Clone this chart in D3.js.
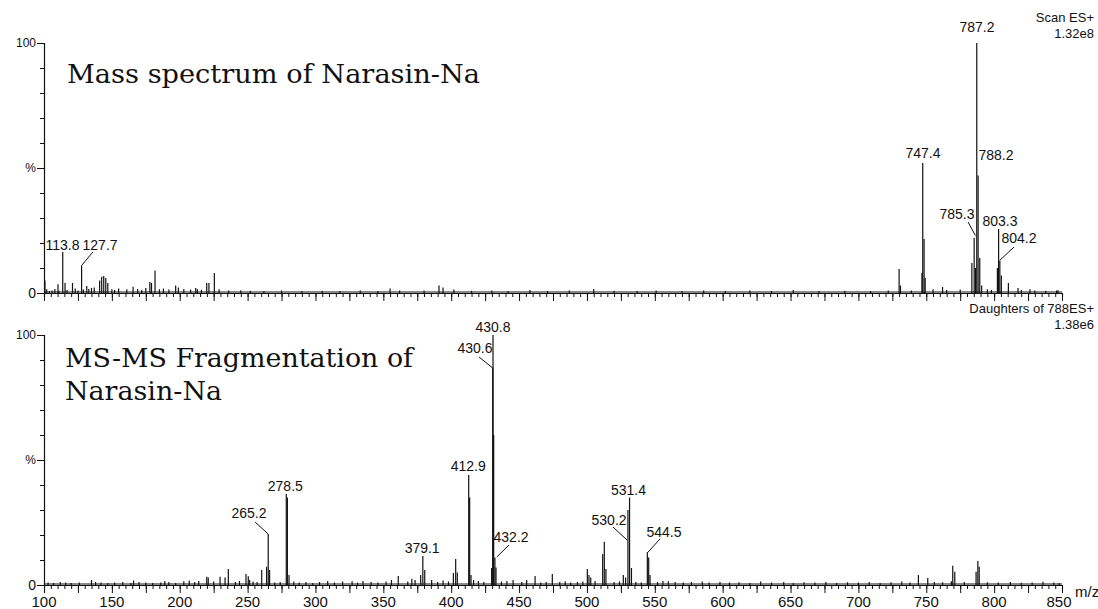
<!DOCTYPE html>
<html>
<head>
<meta charset="utf-8">
<script src="https://cdn.jsdelivr.net/npm/d3@7"></script>
<style>
  body { margin: 0; background: #fff; }
  svg { display: block; }
  .lbl { font-family: "Liberation Sans", Arial, sans-serif; font-size: 14px; fill: #111; }
  .ttl { font-family: "DejaVu Serif", serif; font-size: 26px; fill: #111; }
</style>
</head>
<body>
<div id="chart"></div>
<script>
// m/z range and tick values
const mzDomain = [100, 850];
const xLabels = [100, 150, 200, 250, 300, 350, 400, 450, 500, 550, 600, 650, 700, 750, 800, 850];

// top panel: full scan, [m/z, relative intensity %]
const scanPeaks = [
    [100.7, 5], [110.3, 3.5], [113.8, 16.4], [115.5, 4], [121, 4], [127.7, 11],
    [131.5, 2.8], [135, 2], [141, 5], [142.5, 6.5], [144, 6.8], [145.5, 6], [147, 4],
    [150, 1.5], [165.6, 2.5], [178, 4.4], [179.2, 4], [181.8, 9], [197, 3], [211.8, 2],
    [219.9, 4], [221.5, 4], [225.5, 8],
    [730, 9.6], [731, 3], [746.8, 8], [747.4, 52], [748.4, 21.6], [749.2, 6], [762, 2.4],
    [783.6, 12], [785.3, 22], [786.2, 10], [787.2, 100], [788.2, 47], [789.4, 14], [790.8, 3],
    [802.4, 10], [803.3, 25.6], [804.2, 13], [805.3, 7], [810.5, 4], [817.6, 2], [826.4, 1.5], [846, 1]
];
const scanNoise = [
    [102, 1.5], [104, 0.8], [106, 1], [108, 1.6], [111, 0.9], [117, 1.2], [123, 1.8], [125, 1],
    [129, 1.4], [133, 1.6], [137, 2.2], [152, 1.2], [155, 1.8], [161, 1.5], [169, 1.6], [172, 1.2],
    [175, 2], [185, 1.5], [188, 1.8], [192, 1.4], [199, 2.2], [203, 1.6], [208, 1.4], [213, 1.5],
    [216, 1.3], [229, 1.5], [236, 1], [245, 1.1], [252, 0.9], [262, 0.8], [275, 1], [290, 0.8],
    [305, 0.9], [318, 0.8], [333, 1], [346, 0.8], [355, 1.8], [362, 1], [380, 1], [391, 3],
    [394, 2.2], [402, 1.4], [415, 0.9], [430, 1], [442, 0.8], [458, 1.2], [471, 0.8], [487, 1],
    [505, 1.6], [520, 0.9], [537, 0.8], [551, 1], [570, 0.8], [586, 1], [602, 0.8], [620, 1],
    [636, 0.8], [652, 1.2], [671, 0.8], [690, 0.9], [709, 0.8], [722, 1], [739, 1], [755, 1.5],
    [765, 1.2], [775, 1.4], [795, 1.5], [798, 1.2], [820, 1.2], [830, 1], [838, 0.9], [847, 1.1]
];

// bottom panel: daughters of 788
const msmsPeaks = [
    [219.9, 3.3], [221, 3], [229.7, 3.3], [233.4, 3], [235.8, 6.4], [248.8, 4.4], [250.5, 3.5],
    [251.5, 2], [260.4, 6], [264, 7.3], [265.2, 20.4], [266.2, 6], [278.5, 36.4], [279.3, 35],
    [280.5, 4], [361, 3.6], [373.4, 2], [377.5, 4], [379.1, 11.6], [380.5, 6], [385.6, 2],
    [401.6, 4.8], [403.3, 10.4], [404.5, 5], [412.9, 44], [413.6, 35], [414.6, 4], [416.5, 2],
    [429.8, 6.8], [430.6, 87], [430.8, 100], [431.3, 60], [432.2, 11], [433, 7], [445.6, 2],
    [455.6, 2], [461.8, 3.6], [474.5, 4.4], [484, 1.5], [500.3, 6.4], [501.5, 4], [502.8, 3],
    [511.6, 12.4], [512.8, 17.3], [514, 6.4], [526.8, 4], [528.5, 3], [530.2, 30], [531.4, 35],
    [532.8, 6.8], [544.5, 13], [545.5, 11], [546.5, 4], [560, 1.5],
    [744.2, 4], [751.1, 2.8], [768.5, 1.5], [769.5, 7.7], [771, 5.3], [786.7, 5.3], [788, 9.6], [789, 7.3]
];
const msmsNoise = [
    [103, 1], [107, 0.8], [112, 1.2], [116, 1], [120, 0.8], [126, 1], [135, 2], [138, 1.2], [142, 1],
    [147, 0.8], [152, 1], [158, 1.2], [164, 0.8], [166, 1.8], [170, 1.2], [175, 1], [180, 0.8],
    [186, 1], [189, 1.6], [192, 1.2], [197, 0.8], [203, 1.5], [207, 1.8], [211, 1.2], [214, 1.6],
    [225, 1.4], [241, 1.2], [244, 1.6], [254, 1.4], [257, 1.2], [270, 1], [274, 1.2], [284, 1.4],
    [288, 1], [293, 1.2], [298, 0.8], [303, 1.2], [309, 1.6], [314, 1], [320, 1.4], [327, 1.5],
    [331, 1], [335, 1.6], [341, 1.2], [346, 1], [352, 1.4], [356, 2], [368, 1.4], [371, 2.5],
    [390, 1.2], [394, 1.8], [398, 1.4], [420, 1.6], [424, 1.2], [437, 1.4], [441, 1.6], [452, 1.2],
    [466, 1], [470, 1.2], [480, 1.2], [488, 1], [493, 1.2], [497, 1.4], [506, 1.6], [520, 1.2],
    [524, 1.4], [536, 1.2], [540, 1], [552, 1.2], [556, 1.6], [565, 1.2], [571, 1], [577, 1.2],
    [585, 1.4], [590, 1], [598, 1.2], [605, 1], [612, 1.1], [620, 0.8], [628, 1.4], [636, 1],
    [645, 1.2], [652, 0.8], [660, 1.1], [668, 1], [676, 1.2], [684, 0.8], [692, 1.1], [700, 1],
    [708, 1.2], [716, 0.8], [724, 1.1], [732, 1.4], [738, 1], [756, 1.2], [762, 1.1], [778, 1.2],
    [795, 1.1], [803, 1], [812, 1.2], [820, 0.9], [828, 1], [836, 1.3], [844, 1], [848, 0.8]
];

// peak labels: text, label anchor (m/z, %), optional leader start/end (m/z, %)
const scanLabels = [
    { t: '113.8', at: [113.6, 17.4] },
    { t: '127.7', at: [141.3, 17.4], from: [136, 16.4], to: [127.7, 11] },
    { t: '747.4', at: [747.6, 54] },
    { t: '787.2', at: [787.4, 104.6] },
    { t: '788.2', at: [801.4, 53.4] },
    { t: '785.3', at: [772.6, 29.6], from: [780.8, 28.4], to: [786.2, 23] },
    { t: '803.3', at: [804.3, 26.8] },
    { t: '804.2', at: [818.3, 20], from: [814.7, 18.4], to: [804.4, 13.2] }
];
const msmsLabels = [
    { t: '430.8', at: [430.8, 101.2] },
    { t: '430.6', at: [417.5, 92.8], from: [420.5, 91.2], to: [430.6, 86.8] },
    { t: '412.9', at: [412.5, 45.6] },
    { t: '379.1', at: [378.6, 12.8] },
    { t: '432.2', at: [444.1, 17.2], from: [442.6, 16], to: [433.6, 11.2] },
    { t: '278.5', at: [277.8, 37.6] },
    { t: '265.2', at: [251, 26.8], from: [255.5, 25.2], to: [265.2, 20.4] },
    { t: '531.4', at: [530.6, 36] },
    { t: '530.2', at: [516.3, 24], from: [519.2, 23.2], to: [529.6, 18] },
    { t: '544.5', at: [556.8, 19.2], from: [553.8, 18.4], to: [544.4, 12.8] }
];

const W = 1098, H = 609;
const svg = d3.select('#chart').append('svg').attr('width', W).attr('height', H);

const x = d3.scaleLinear().domain(mzDomain).range([44, 1062]);

function panel(top, peaks, noise, labels, showXLabels) {
    const y = d3.scaleLinear().domain([0, 100]).range([top + 250, top]);
    const g = svg.append('g');

    // baseline band
    g.append('line')
        .attr('x1', x(100)).attr('x2', x(850))
        .attr('y1', y(0) - 1).attr('y2', y(0) - 1)
        .attr('stroke', '#888').attr('stroke-width', 2);

    // spectrum sticks
    g.append('g').selectAll('line')
        .data(noise.concat(peaks))
        .enter().append('line')
        .attr('x1', d => x(d[0])).attr('x2', d => x(d[0]))
        .attr('y1', y(0)).attr('y2', d => y(d[1]))
        .attr('stroke', '#111').attr('stroke-width', 1.2);

    // x axis: minor every 5, major every 25
    const minor = d3.range(100, 851, 5);
    const major = d3.range(100, 851, 25);
    g.append('g').attr('transform', `translate(0,${y(0)})`)
        .call(d3.axisBottom(x).tickValues(minor).tickSize(4).tickFormat(''))
        .call(a => a.select('.domain').attr('stroke', '#111').attr('stroke-width', 1.2));
    const ax = g.append('g').attr('transform', `translate(0,${y(0)})`)
        .call(d3.axisBottom(x).tickValues(major).tickSize(8).tickFormat(''));
    ax.select('.domain').remove();
    g.selectAll('.tick line').attr('stroke', '#111');

    if (showXLabels) {
        g.append('g').selectAll('text')
            .data(xLabels)
            .enter().append('text')
            .attr('x', d => x(d) + (d === 850 ? -3 : 0)).attr('y', y(0) + 22)
            .attr('text-anchor', 'middle')
            .attr('font-family', '"Liberation Sans", Arial, sans-serif')
            .attr('font-size', 15).attr('fill', '#111')
            .text(d => d);
    }

    // y axis
    g.append('g').attr('transform', `translate(${x(100)},0)`)
        .call(d3.axisLeft(y).tickValues(d3.range(0, 101, 10)).tickSize(4).tickFormat(''))
        .call(a => a.select('.domain').attr('stroke', '#111').attr('stroke-width', 1.2))
        .call(a => a.selectAll('.tick line').attr('stroke', '#111'));
    const yl = g.append('g').attr('transform', `translate(${x(100)},0)`)
        .call(d3.axisLeft(y).tickValues([0, 50, 100]).tickSize(7).tickPadding(1)
            .tickFormat(d => d === 50 ? '%' : d));
    yl.select('.domain').remove();
    yl.selectAll('.tick line').attr('stroke', '#111');
    yl.selectAll('text').attr('font-family', '"Liberation Sans", Arial, sans-serif')
        .attr('font-size', d => d === 0 ? 14 : 12).attr('fill', '#111');

    // peak labels
    labels.forEach(l => {
        g.append('text').attr('class', 'lbl')
            .attr('x', x(l.at[0])).attr('y', y(l.at[1]))
            .attr('text-anchor', 'middle').text(l.t);
        if (l.from) {
            g.append('line')
                .attr('x1', x(l.from[0])).attr('y1', y(l.from[1]))
                .attr('x2', x(l.to[0])).attr('y2', y(l.to[1]))
                .attr('stroke', '#111').attr('stroke-width', 1);
        }
    });
    return g;
}

panel(43, scanPeaks, scanNoise, scanLabels, false);
panel(335, msmsPeaks, msmsNoise, msmsLabels, true);

// titles, stretched to the width they take in the original
const titles = [['Mass spectrum of Narasin-Na', 67, 83, 413], ['MS-MS Fragmentation of', 65, 367, 348], ['Narasin-Na', 65, 400, 157]];
svg.selectAll('.ttl').data(titles).enter().append('text')
    .attr('class', 'ttl').attr('x', d => d[1]).attr('y', d => d[2])
    .attr('textLength', d => d[3]).attr('lengthAdjust', 'spacingAndGlyphs')
    .text(d => d[0]);

// scan info at right
const info = [['Scan ES+', 22], ['1.32e8', 38], ['Daughters of 788ES+', 313], ['1.38e6', 329]];
svg.selectAll('.info').data(info).enter().append('text')
    .attr('class', 'lbl').attr('x', 1094).attr('y', d => d[1])
    .attr('text-anchor', 'end').style('font-size', '13px').text(d => d[0]);

svg.append('text').attr('class', 'lbl').attr('x', 1075).attr('y', 597)
    .style('font-size', '15px').text('m/z');
</script>
</body>
</html>
